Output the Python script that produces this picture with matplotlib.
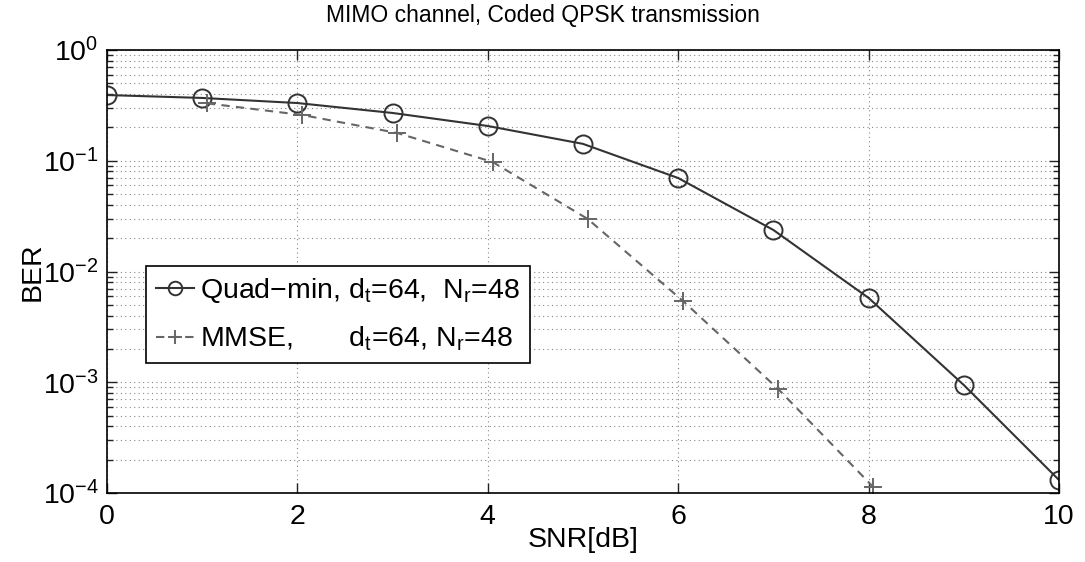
import matplotlib
matplotlib.use("Agg")
import matplotlib.pyplot as plt
from matplotlib.ticker import LogLocator, NullFormatter

snr_quad = [0, 1, 2, 3, 4, 5, 6, 7, 8, 9, 10]
ber_quad = [0.392, 0.369, 0.332, 0.270, 0.206, 0.142, 0.0698, 0.0237, 0.00577, 0.000944, 0.000131]
snr_mmse = [1.05, 2.05, 3.05, 4.05, 5.05, 6.05, 7.05, 8.05]
ber_mmse = [0.33, 0.259, 0.178, 0.0975, 0.0298, 0.00542, 0.000869, 0.000113]

label_quad = r"Quad$-$min, d$_t$=64,  N$_r$=48"
label_mmse = r"MMSE,       d$_t$=64, N$_r$=48"
xticks = [0, 2, 4, 6, 8, 10]

plt.rcParams['font.family'] = ['Liberation Sans', 'DejaVu Sans']
plt.rcParams['mathtext.fontset'] = 'custom'
plt.rcParams['mathtext.rm'] = 'Liberation Sans'
plt.rcParams['mathtext.it'] = 'Liberation Sans'
plt.rcParams['mathtext.default'] = 'regular'

fs = 20.5

fig = plt.figure(figsize=(10.85, 5.62), dpi=100)
ax = fig.add_axes([107 / 1085, 69 / 562, 952 / 1085, 443 / 562])

ax.semilogy(snr_quad, ber_quad, color='#333333', lw=1.5, marker='o', ms=13,
            mfc='none', mec='#333333', mew=1.4, label=label_quad)
ax.semilogy(snr_mmse, ber_mmse, color='#666666', lw=1.5, ls=(0, (4, 3)), marker='+',
            ms=13, mew=1.4, label=label_mmse)

ax.set_xlim(0, 10)
ax.set_ylim(1e-4, 1)
ax.set_xticks(xticks)
ax.yaxis.set_major_locator(LogLocator(base=10, numticks=10))
ax.yaxis.set_minor_locator(LogLocator(base=10, subs=range(2, 10), numticks=20))
ax.yaxis.set_minor_formatter(NullFormatter())

ax.grid(True, which='major', axis='x', color='#888888', ls=(0, (1, 3)), lw=0.8)
ax.grid(True, which='both', axis='y', color='#888888', ls=(0, (1, 3)), lw=0.8)

ax.tick_params(which='both', direction='in', top=True, right=True, labelsize=fs,
               width=1, color='#222222')
ax.tick_params(axis='x', pad=8)
ax.tick_params(axis='y', pad=6)
ax.tick_params(which='major', length=7)
ax.tick_params(which='minor', length=4)
for s in ax.spines.values():
    s.set_linewidth(1.2)

ax.set_xlabel('SNR[dB]', fontsize=fs, labelpad=-2)
ax.set_ylabel('BER', fontsize=fs, labelpad=-2)
# MATLAB centres the title on the figure, not on the axes
ax.set_title('MIMO channel, Coded QPSK transmission', fontsize=16.5, pad=20,
             x=(542.5 - 107) / 952)

leg = ax.legend(loc='lower left', bbox_to_anchor=(0.041, 0.293), fontsize=fs,
                frameon=True, fancybox=False, edgecolor='black', framealpha=1,
                borderaxespad=0, handlelength=1.35, handletextpad=0.18,
                borderpad=0.35, labelspacing=0.68, markerscale=0.75)
leg.get_frame().set_linewidth(1.2)

fig.savefig('out.png', dpi=100)
